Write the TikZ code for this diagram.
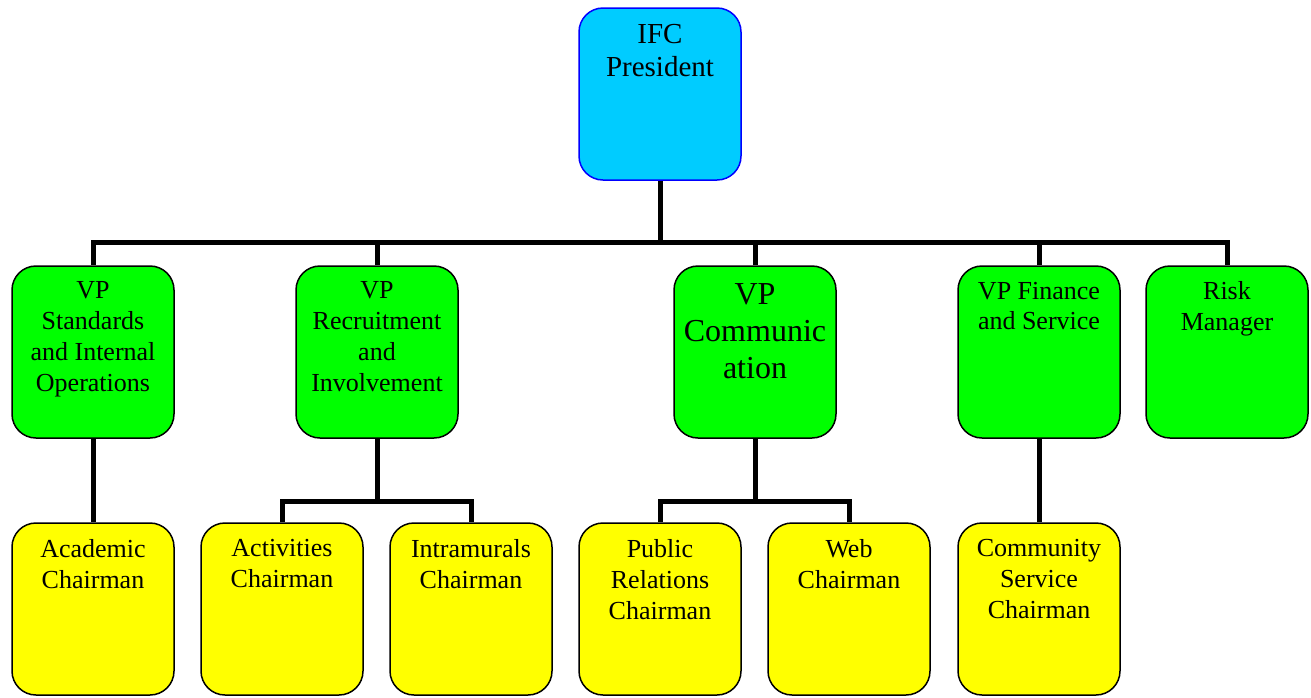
\documentclass[tikz,border=0pt]{standalone}
\usepackage{fontspec}
\setmainfont{Liberation Serif}
\definecolor{presblue}{HTML}{00CCFF}
\definecolor{vpgreen}{HTML}{00FF00}
\definecolor{chyellow}{HTML}{FFFF00}
\begin{document}
\begin{tikzpicture}[x=1pt,y=-1pt,
  box/.style={rectangle,rounded corners=24pt,minimum width=162pt,minimum height=172pt,line width=1.5pt,draw=black,inner sep=0pt},
  presbox/.style={box,fill=presblue,draw=blue},
  vpbox/.style={box,fill=vpgreen},
  chbox/.style={box,fill=chyellow},
  lbl/.style={anchor=north,align=center,inner sep=0pt,font=\fontsize{26}{30.8}\selectfont},
  preslbl/.style={anchor=north,align=center,inner sep=0pt,font=\fontsize{29}{33}\selectfont},
  biglbl/.style={anchor=north,align=center,inner sep=0pt,font=\fontsize{32}{37}\selectfont},
  conn/.style={line width=5pt}]
\useasboundingbox (0,0) rectangle (1311,697);
% boxes
\node[presbox] (pres) at (660,94) {};
\node[vpbox] (g1) at (93,352) {};
\node[vpbox] (g2) at (377,352) {};
\node[vpbox] (g3) at (755,352) {};
\node[vpbox] (g4) at (1039,352) {};
\node[vpbox] (g5) at (1227,352) {};
\node[chbox] (y1) at (93,609) {};
\node[chbox] (y2) at (282,609) {};
\node[chbox] (y3) at (471,609) {};
\node[chbox] (y4) at (660,609) {};
\node[chbox] (y5) at (849,609) {};
\node[chbox] (y6) at (1039,609) {};
% connectors
\coordinate (bus) at (660,242);
\coordinate (b2) at (377,501);
\coordinate (b3) at (755,501);
\draw[conn] (pres.south) -- (bus);
\draw[conn] (g1.north) |- (bus) -| (g5.north);
\draw[conn] (g2.north) -- (g2.north |- bus);
\draw[conn] (g3.north) -- (g3.north |- bus);
\draw[conn] (g4.north) -- (g4.north |- bus);
\draw[conn] (g1.south) -- (y1.north);
\draw[conn] (g2.south) -- (b2);
\draw[conn] (y2.north) |- (b2) -| (y3.north);
\draw[conn] (g3.south) -- (b3);
\draw[conn] (y4.north) |- (b3) -| (y5.north);
\draw[conn] (g4.south) -- (y6.north);
% labels
\node[preslbl] (tpres) at ([yshift=-17pt]pres.north) {IFC\\President};
\node[lbl] (tg1) at ([yshift=-16.5pt]g1.north) {VP\\Standards\\and Internal\\Operations};
\node[lbl] (tg2) at ([yshift=-16.5pt]g2.north) {VP\\Recruitment\\and\\Involvement};
\node[biglbl] (tg3) at ([yshift=-18pt]g3.north) {VP\\Communic\\ation};
\node[lbl] (tg4) at ([yshift=-16.5pt]g4.north) {VP Finance\\and Service};
\node[lbl] (tg5) at ([yshift=-16.5pt]g5.north) {Risk\\Manager};
\node[lbl] (ty1) at ([yshift=-17pt]y1.north) {Academic\\Chairman};
\node[lbl] (ty2) at ([yshift=-17pt]y2.north) {Activities\\Chairman};
\node[lbl] (ty3) at ([yshift=-17pt]y3.north) {Intramurals\\Chairman};
\node[lbl] (ty4) at ([yshift=-17pt]y4.north) {Public\\Relations\\Chairman};
\node[lbl] (ty5) at ([yshift=-17pt]y5.north) {Web\\Chairman};
\node[lbl] (ty6) at ([yshift=-17pt]y6.north) {Community\\Service\\Chairman};
\end{tikzpicture}
\end{document}
